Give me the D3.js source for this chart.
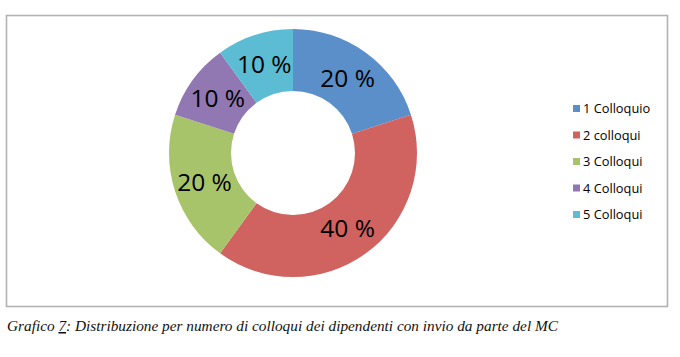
<!DOCTYPE html>
<html>
<head>
<meta charset="utf-8">
<script src="https://cdn.jsdelivr.net/npm/d3@7"></script>
<style>
  body { margin: 0; background: #fff; }
</style>
</head>
<body>
<svg width="680" height="357"></svg>
<script>
const categories = ["1 Colloquio", "2 colloqui", "3 Colloqui", "4 Colloqui", "5 Colloqui"];
const values = [20, 40, 20, 10, 10];
const labels = ["20 %", "40 %", "20 %", "10 %", "10 %"];
const colors = ["#5b8fca", "#d0625f", "#a8c46b", "#9178b2", "#5bbcd3"];
const caption = "Distribuzione per numero di colloqui dei dipendenti con invio da parte del MC";

const svg = d3.select("svg");
const data = categories.map((c, i) => ({ cat: c, value: values[i], label: labels[i], color: colors[i] }));

// cornice del grafico
svg.append("rect")
  .attr("x", 6.5).attr("y", 15.5)
  .attr("width", 661).attr("height", 291)
  .attr("fill", "#fff")
  .attr("stroke", "#b3b3b3")
  .attr("stroke-width", 1.6);

/* CIAMBELLA */
const cx = 293, cy = 153;
const outerR = 124, innerR = 62;

const pie = d3.pie().sort(null).value(d => d.value);
const arc = d3.arc().innerRadius(innerR).outerRadius(outerR);

const g = svg.append("g").attr("transform", `translate(${cx},${cy})`);

g.selectAll("path.slice")
  .data(pie(data))
  .enter().append("path")
  .attr("class", "slice")
  .attr("d", arc)
  .attr("fill", d => d.data.color);

g.selectAll("text.lbl")
  .data(pie(data))
  .enter().append("text")
  .attr("class", "lbl")
  .attr("transform", d => `translate(${arc.centroid(d)})`)
  .attr("text-anchor", "middle")
  .attr("dy", "0.36em")
  .attr("font-family", "'Open Sans', 'Noto Sans', sans-serif")
  .attr("font-size", 24.5)
  .attr("fill", "#000")
  .text(d => d.data.label);

/* LEGENDA */
const yLeg = d3.scalePoint().domain(categories).range([109, 215]);

const leg = svg.selectAll(".leg")
  .data(data)
  .enter().append("g")
  .attr("class", "leg")
  .attr("transform", d => `translate(573,${yLeg(d.cat)})`);

leg.append("rect")
  .attr("x", 0).attr("y", -4)
  .attr("width", 7).attr("height", 7)
  .attr("fill", d => d.color);

leg.append("text")
  .attr("x", 10)
  .attr("dy", "0.35em")
  .attr("font-family", "'Open Sans', 'Noto Sans', sans-serif")
  .attr("font-size", 12.8)
  .attr("fill", "#000")
  .text(d => d.cat);

/* DIDASCALIA */
const cap = svg.append("text")
  .attr("x", 7).attr("y", 331)
  .attr("font-family", "'Liberation Serif', 'DejaVu Serif', serif")
  .attr("font-style", "italic")
  .attr("font-size", 15.3)
  .attr("fill", "#111");
cap.append("tspan").text("Grafico ");
cap.append("tspan").attr("text-decoration", "underline").text("7");
cap.append("tspan").text(": " + caption);
</script>
</body>
</html>
